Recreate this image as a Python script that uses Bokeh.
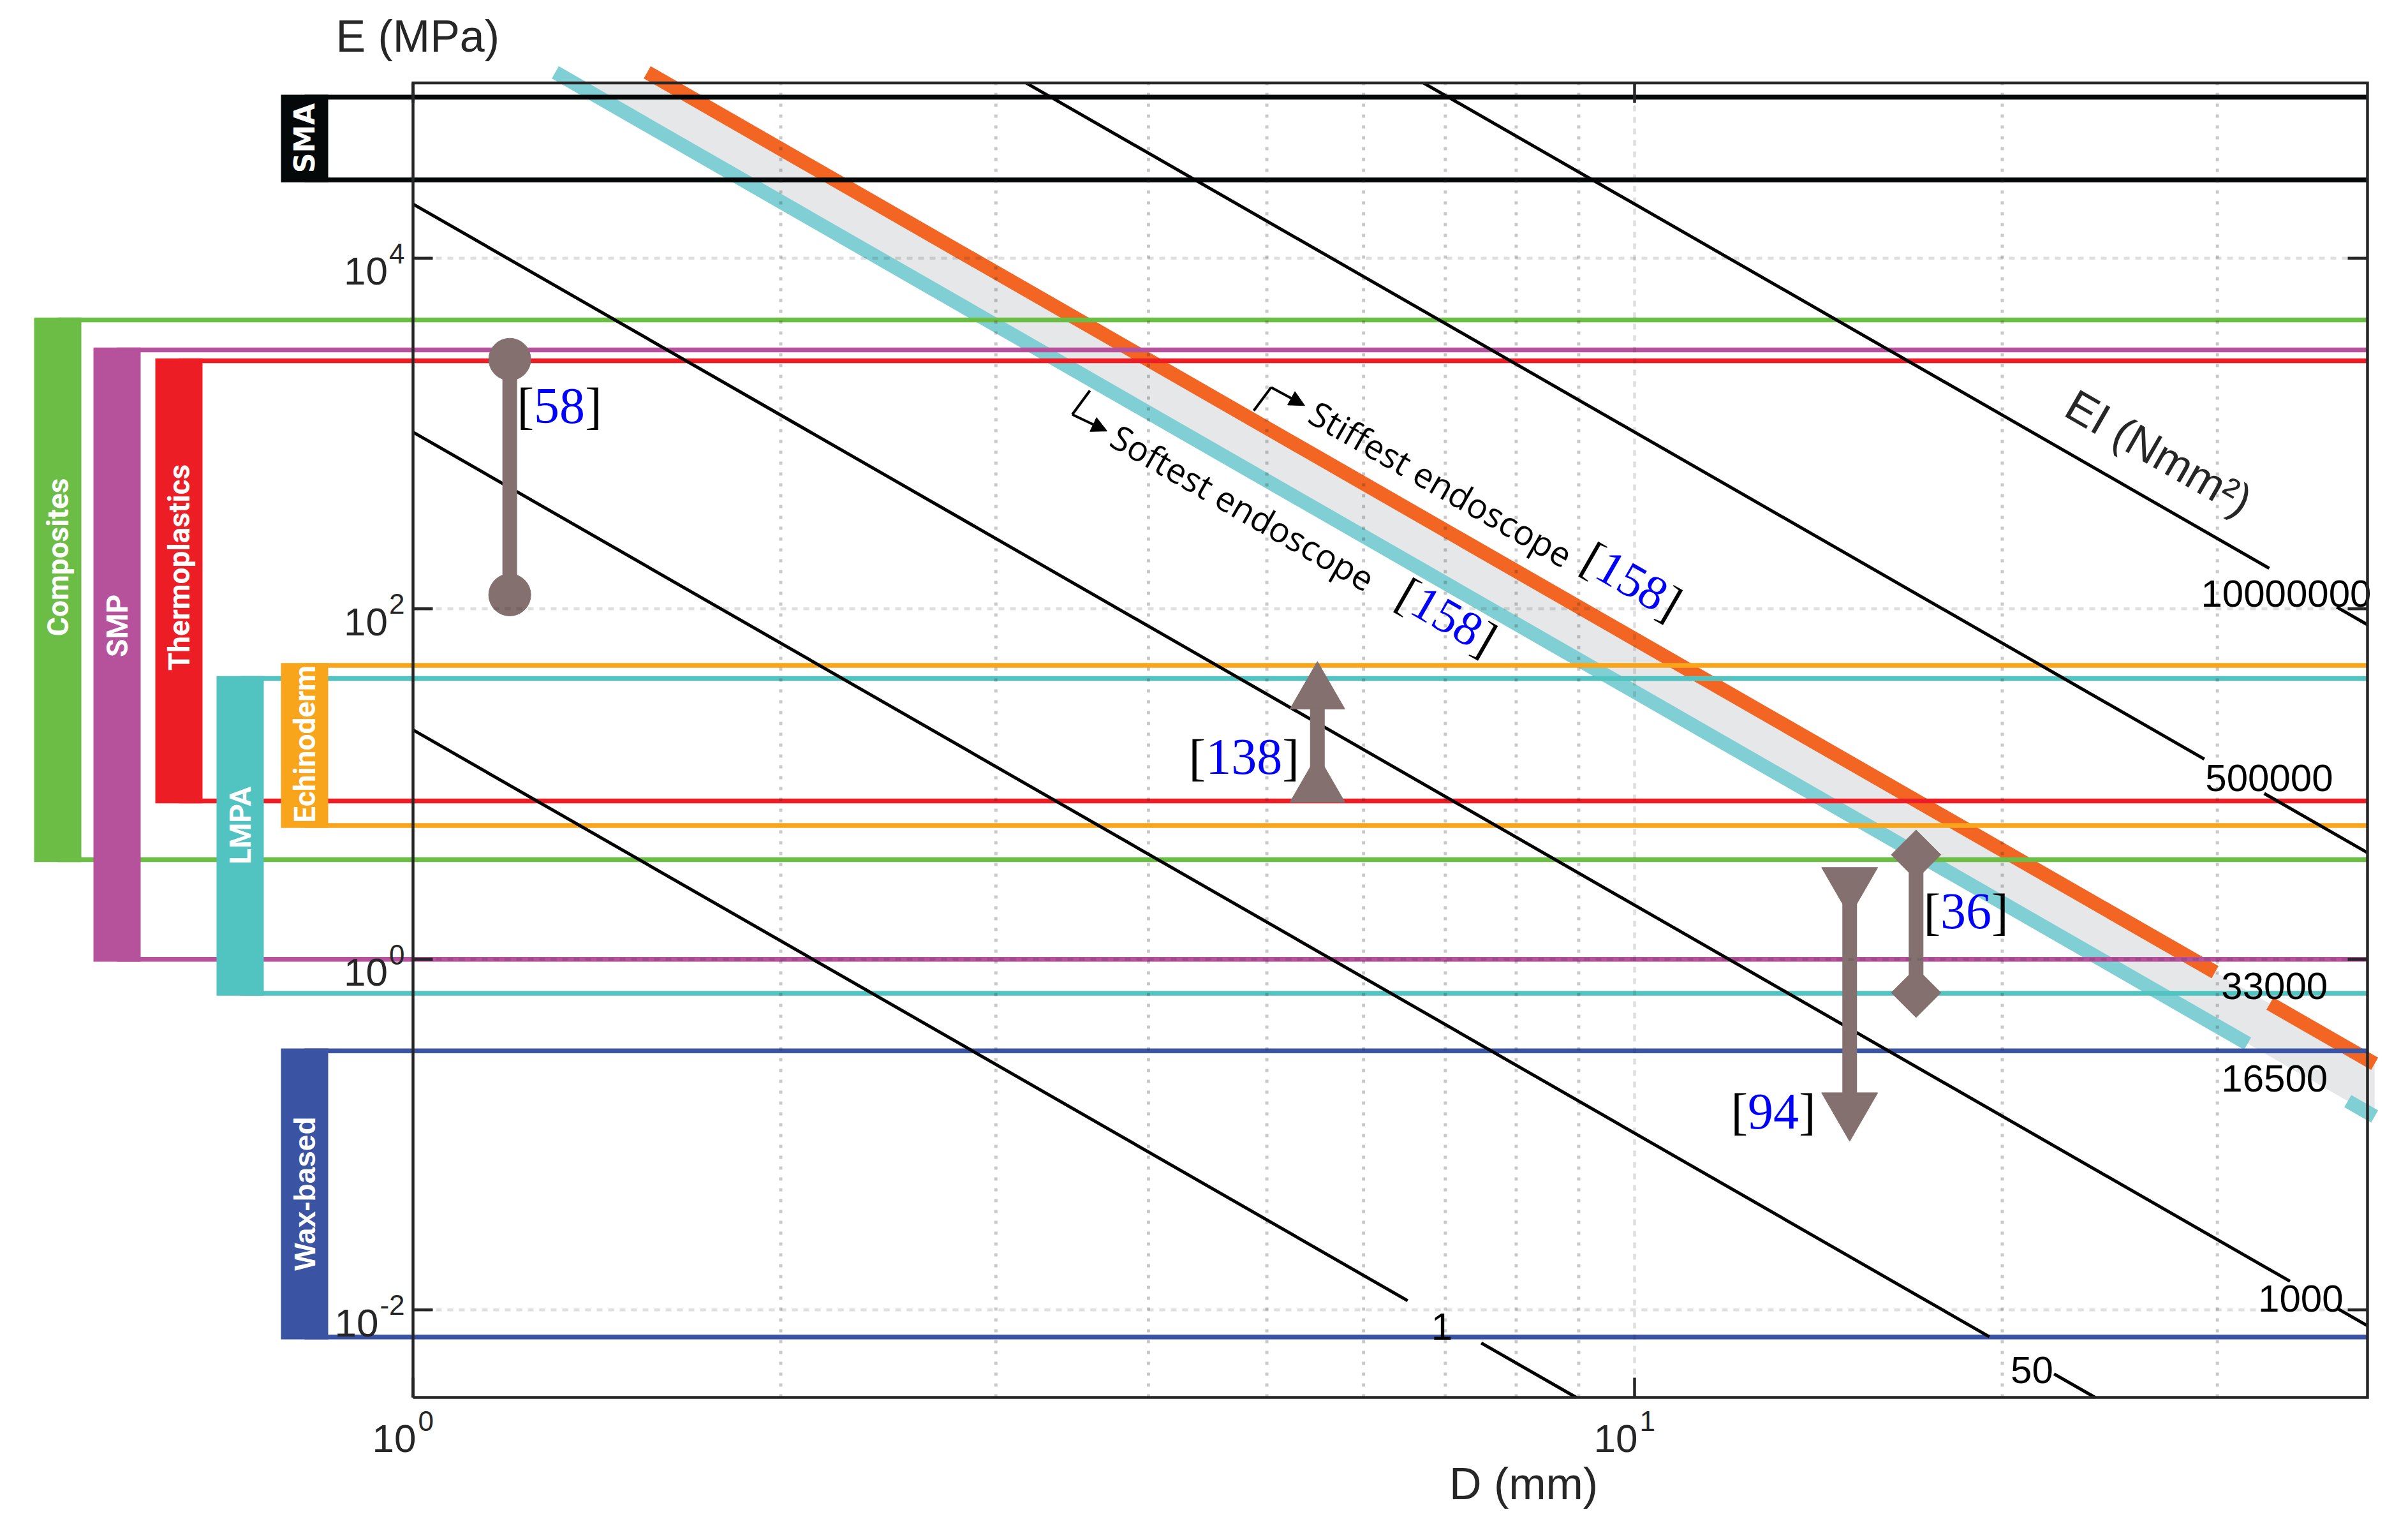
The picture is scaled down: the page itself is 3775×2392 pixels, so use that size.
import math
from bokeh.plotting import figure
from bokeh.models import Range1d, Arrow, NormalHead
from bokeh.embed import file_html
from bokeh.resources import INLINE
from bokeh.core.properties import value

# ------------------------------------------------------------------ data
# Material classes: Young's modulus range E (MPa)
materials = ["SMA", "Composites", "SMP", "Thermoplastics", "LMPA", "Echinoderm", "Wax-based"]
mat_E_min = [28000, 3.7, 1.0, 8.0, 0.64, 5.8, 0.007]
mat_E_max = [83000, 4450, 3000, 2600, 40, 47.5, 0.30]
mat_colors = ["#050808", "#6CBD45", "#B6519C", "#EC1D25", "#51C3C1", "#F8A51C", "#3A53A3"]

# Iso-bending-stiffness lines EI (N mm^2)
EI_values = [1, 50, 1000, 500000, 10000000]
EI_texts = ["1", "50", "1000", "500000", "10000000"]
endo_EI = [33000, 16500]               # stiffest / softest endoscope [158]
endo_texts = ["33000", "16500"]
endo_names = ["Stiffest endoscope", "Softest endoscope"]
endo_colors = ["#F26522", "#80CFD4"]

# Literature ranges: diameter D (mm) and E range (MPa)
ref_ids = ["58", "138", "36", "94"]
ref_D = [1.2, 5.5, 17, 15]
ref_E_low = [120, 9.7, 0.645, 0.14]
ref_E_high = [2650, 33, 3.95, 2.7]
ref_marker = ["circle", "triangle", "square", "inverted_triangle"]

# axis ticks
x_tick_exp = [0, 1]
y_tick_exp = [4, 2, 0, -2]
x_minor = [2, 3, 4, 5, 6, 7, 8, 9, 20, 30]

# ------------------------------------------------------------------ layout
W, H = 3768, 2384
X0_PX, PX_DEC_X = 647.0, 1915.0      # pixel of D = 1, pixels per decade
Y0_PX, PX_DEC_Y = 1503.2, 274.73     # pixel of E = 1, pixels per decade
LX0 = -X0_PX / PX_DEC_X
LX1 = LX0 + W / PX_DEC_X
LY1 = Y0_PX / PX_DEC_Y
LY0 = LY1 - H / PX_DEC_Y
XMIN, XMAX = 1.0, 10 ** 1.6
YMIN, YMAX = 10 ** -2.5, 1e5
BAND_D_END = 40.35
BAND_E_START = 1.15e5


def xp(D):
    return (math.log10(D) - LX0) * PX_DEC_X


def yp(E):
    return (LY1 - math.log10(E)) * PX_DEC_Y


def xd(px):
    return 10 ** (LX0 + px / PX_DEC_X)


def yd(py):
    return 10 ** (LY1 - py / PX_DEC_Y)


THETA = math.atan(4 * PX_DEC_Y / PX_DEC_X)   # screen slope of the EI lines

mat_slot = [4, 0, 1, 2, 3, 4, 4]
slot_left_px = [53, 146, 243, 339, 440]
SLOT_W = 74
LW_MAT = 7.5
mat_label_E = [48500, 197, 80, 172, 5.8, 16.9, 0.046]
mat_font = ["DejaVu Sans", "Roboto", "Roboto", "Roboto", "Roboto", "Roboto", "Liberation Sans"]
mat_fs = [44, 46, 46, 46, 46, 46, 46]

EI_gap = {1: (6.52, 7.49), 50: (19.52, 22.05), 1000: (34.4, 37.56),
          500000: (29.27, 32.77), 10000000: (33.08, 37.57),
          33000: (29.87, 33.12), 16500: (31.76, 38.36)}
EI_label_at = {1: (6.955, 0.00805), 50: (21.15, 0.00455), 1000: (35.1, 0.01164),
               500000: (33.08, 10.8), 10000000: (34.15, 122),
               33000: (33.41, 0.705), 16500: (33.41, 0.209)}

ref_cite_at = [(1.2164, 1144), (4.315, 11.38), (17.24, 1.497), (11.99, 0.1078)]
ref_size = [66, 86, 55, 88]
MK = "#857070"
CITE_FS = 80

endo_text_at = [(5.383, 1173), (3.704, 860)]
endo_cite_at = [(8.995, 169.2), (6.347, 105.8)]
endo_elbow = [[(4.878, 1349), (5.041, 1834), (5.370, 1443)],
              [(3.582, 1758), (3.465, 1283), (3.700, 1032)]]

TXT = "#262626"
# distance (in em) between the alphabetic baseline and the middle of the text box
MID = {"Liberation Sans": 0.3465, "Liberation Serif": 0.3375, "Open Sans": 0.388,
       "Roboto": 0.342, "DejaVu Sans": 0.346}


def D_at(EI, E):
    return (64 * EI / (math.pi * E)) ** 0.25


def E_at(EI, D):
    return 64 * EI / (math.pi * D ** 4)


p = figure(width=W, height=H, x_axis_type="log", y_axis_type="log",
           x_range=Range1d(10 ** LX0, 10 ** LX1), y_range=Range1d(10 ** LY0, 10 ** LY1),
           x_axis_location=None, y_axis_location=None, toolbar_location=None,
           output_backend="svg", min_border=0, outline_line_color=None)
p.grid.visible = False
p.background_fill_color = "white"
p.border_fill_color = "white"


def txt(x, y, s, size, font="Liberation Sans", color=TXT, align="left",
        baseline="alphabetic", angle=0.0, style="normal"):
    if baseline == "alphabetic":
        # anchor given on the baseline: move it to the middle of the text box
        c = MID.get(font, 0.35) * size
        px, py = xp(x), yp(y)
        px += c * -math.sin(angle)
        py += c * -math.cos(angle)
        x, y = xd(px), yd(py)
        baseline = "middle"
    p.text(x=[x], y=[y], text=[s], text_font=value(font), text_font_size=f"{size}px",
           text_color=color, text_align=align, text_baseline=baseline,
           angle=angle, text_font_style=style)


def cite(D, E, num, size, rot=0.0):
    """'[' + blue number + ']' starting at baseline-left anchor (D, E)."""
    ax, ay = xp(D), yp(E)
    ux, uy = math.cos(rot), math.sin(rot)
    parts = [("[", "black", 0.0), (num, "#0000FF", 0.333 * size),
             ("]", "black", 0.333 * size + 0.5 * size * len(num))]
    for s, c, d in parts:
        txt(xd(ax + d * ux), yd(ay + d * uy), s, size, font="Liberation Serif",
            color=c, angle=-rot)


# ---------------- endoscope band
Dc0, Do0 = D_at(endo_EI[1], YMAX), D_at(endo_EI[0], YMAX)
p.patch([Dc0, BAND_D_END, BAND_D_END, Do0],
        [YMAX, E_at(endo_EI[1], BAND_D_END), E_at(endo_EI[0], BAND_D_END), YMAX],
        fill_color="#E6E7E8", line_color=None)
for EI, col in zip(endo_EI, endo_colors):
    g0, g1 = EI_gap[EI]
    for a, b in [(D_at(EI, BAND_E_START), g0), (g1, BAND_D_END)]:
        p.line([a, b], [E_at(EI, a), E_at(EI, b)], line_color=col, line_width=22,
               line_cap="butt")

# ---------------- material ranges: horizontal lines + side bars
for i, m in enumerate(materials):
    left = slot_left_px[mat_slot[i]]
    xc = xd(left + SLOT_W / 2)
    p.segment(x0=[xc, xc], y0=[mat_E_min[i], mat_E_max[i]], x1=[XMAX, XMAX],
              y1=[mat_E_min[i], mat_E_max[i]], line_color=mat_colors[i], line_width=LW_MAT)
for i, m in enumerate(materials):
    left = slot_left_px[mat_slot[i]]
    p.quad(left=[xd(left + LW_MAT / 2)], right=[xd(left + SLOT_W - LW_MAT / 2)],
           bottom=[mat_E_min[i]], top=[mat_E_max[i]], fill_color=mat_colors[i],
           line_color=mat_colors[i], line_width=LW_MAT, line_join="miter")
    txt(xd(left + SLOT_W / 2), mat_label_E[i], m, mat_fs[i], font=mat_font[i], color="white",
        align="center", baseline="middle", angle=math.pi / 2, style="bold")

# ---------------- EI lines
for EI, lab in zip(EI_values, EI_texts):
    d0 = max(XMIN, D_at(EI, YMAX))
    d1 = min(XMAX, D_at(EI, YMIN))
    g0, g1 = EI_gap[EI]
    for a, b in [(d0, g0), (g1, d1)]:
        p.line([a, b], [E_at(EI, a), E_at(EI, b)], line_color="black", line_width=5)
    lx, ly = EI_label_at[EI]
    txt(lx, ly, lab, 60, color="black", align="center", baseline="middle")
for EI, lab in zip(endo_EI, endo_texts):
    lx, ly = EI_label_at[EI]
    txt(lx, ly, lab, 60, color="black", align="center", baseline="middle")

txt(22.38, 1275, "EI (Nmm²)", 70, angle=-THETA)

# ---------------- endoscope annotations
for name, (tx, ty), (cx, cy), elbow in zip(endo_names, endo_text_at, endo_cite_at, endo_elbow):
    txt(tx, ty, name, 54, font="Open Sans", color="black", angle=-THETA)
    cite(cx, cy, "158", 76, rot=THETA)
    (x1, y1), (x2, y2), (x3, y3) = elbow
    p.line([x1, x2], [y1, y2], line_color="black", line_width=4)
    p.add_layout(Arrow(end=NormalHead(size=24, fill_color="black", line_color="black",
                                      line_width=1),
                       x_start=x2, y_start=y2, x_end=x3, y_end=y3,
                       line_color="black", line_width=4))

# ---------------- literature ranges
p.segment(x0=ref_D, y0=ref_E_low, x1=ref_D, y1=ref_E_high, line_color=MK, line_width=23)
for i in range(len(ref_ids)):
    ang = math.pi / 4 if ref_marker[i] == "square" else 0.0
    p.scatter([ref_D[i], ref_D[i]], [ref_E_low[i], ref_E_high[i]], marker=ref_marker[i],
              size=ref_size[i], fill_color=MK, line_color=MK, angle=ang)
    cite(ref_cite_at[i][0], ref_cite_at[i][1], ref_ids[i], CITE_FS)

# ---------------- grid (drawn on top, translucent)
p.segment(x0=x_minor, y0=[YMIN] * len(x_minor), x1=x_minor, y1=[YMAX] * len(x_minor),
          line_color=TXT, line_alpha=0.25, line_width=5, line_dash="5 12")
p.segment(x0=[10], y0=[YMIN], x1=[10], y1=[YMAX], line_color=TXT, line_alpha=0.15,
          line_width=4.5, line_dash="9 9")
ygrid = [10.0 ** e for e in y_tick_exp]
p.segment(x0=[XMIN] * len(ygrid), y0=ygrid, x1=[XMAX] * len(ygrid), y1=ygrid,
          line_color=TXT, line_alpha=0.15, line_width=4.5, line_dash="9 9")

# ---------------- frame, ticks, labels
p.line([XMIN, XMAX, XMAX, XMIN, XMIN], [YMIN, YMIN, YMAX, YMAX, YMIN],
       line_color=TXT, line_width=4.5, line_join="miter")
TL = 31
for e in y_tick_exp:
    E = 10.0 ** e
    p.segment(x0=[XMIN, XMAX], y0=[E, E], x1=[xd(xp(XMIN) + TL), xd(xp(XMAX) - TL)],
              y1=[E, E], line_color=TXT, line_width=4.5)
    ty = yp(E)
    es = str(e)
    ew = sum(0.333 if c == "-" else 0.556 for c in es) * 44
    txt(xd(634), yd(ty + 8), es, 44, align="right")
    txt(xd(634 - ew - 2), yd(ty + 42), "10", 62, align="right")
for e in x_tick_exp:
    D = 10.0 ** e
    p.segment(x0=[D, D], y0=[YMIN, YMAX], x1=[D, D], y1=[yd(yp(YMIN) - TL), yd(yp(YMAX) + TL)],
              line_color=TXT, line_width=4.5)
    tx = xp(D)
    txt(xd(tx + 5), yd(2276), "10", 62, align="right")
    txt(xd(tx + 8), yd(2242), str(e), 44, align="left")

txt(0.8645, 150840, "E (MPa)", 70)
txt(xd(2388), yd(2350), "D (mm)", 70, align="center")

open("out.html", "w").write(file_html(p, INLINE))
